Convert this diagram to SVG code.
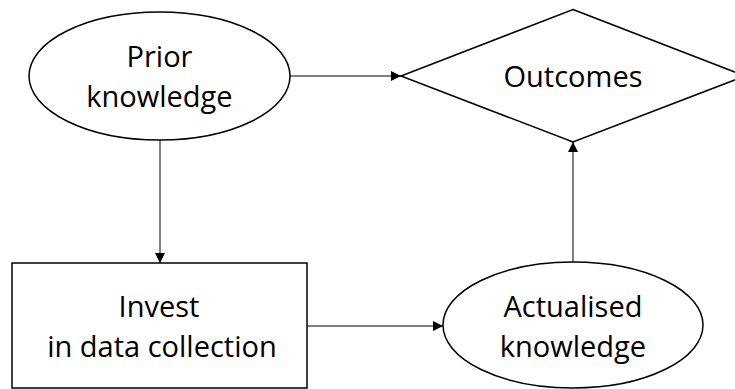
<svg xmlns="http://www.w3.org/2000/svg" width="735" height="389" viewBox="0 0 735 389">
  <style>
    .shape { fill: #ffffff; stroke: #000000; stroke-width: 1.5; }
    .label { font-family: "Open Sans", "Liberation Sans", sans-serif; font-size: 29px; fill: #000000; text-anchor: middle; }
    .edge { fill: none; stroke: #000000; stroke-width: 1; }
  </style>
  <defs>
    <marker id="arrow" markerUnits="userSpaceOnUse" markerWidth="10" markerHeight="10" refX="10" refY="5" orient="auto">
      <path d="M0,0 L10,5 L0,10 Z" fill="#000000"/>
    </marker>
  </defs>
  <rect width="735" height="389" fill="#ffffff"/>

  <g id="connectors">
    <line class="edge" x1="290" y1="76" x2="401" y2="76" marker-end="url(#arrow)"/>
    <line class="edge" x1="160" y1="140" x2="160" y2="263" marker-end="url(#arrow)"/>
    <line class="edge" x1="307" y1="326" x2="443" y2="326" marker-end="url(#arrow)"/>
    <line class="edge" x1="573" y1="262" x2="573" y2="142" marker-end="url(#arrow)"/>
  </g>

  <g id="prior-knowledge">
    <ellipse class="shape" cx="159.5" cy="76" rx="130.5" ry="64"/>
    <text class="label" x="159.5" y="67">Prior</text>
    <text class="label" x="159.5" y="107">knowledge</text>
  </g>

  <g id="outcomes">
    <polygon class="shape" points="573,9.5 745,76 573,142 401,76"/>
    <text class="label" x="573" y="87">Outcomes</text>
  </g>

  <g id="invest">
    <rect class="shape" x="12" y="263" width="295" height="125"/>
    <text class="label" x="159" y="317">Invest</text>
    <text class="label" x="162" y="357">in data collection</text>
  </g>

  <g id="actualised-knowledge">
    <ellipse class="shape" cx="573" cy="325" rx="130" ry="63"/>
    <text class="label" x="573" y="317">Actualised</text>
    <text class="label" x="573" y="357">knowledge</text>
  </g>
</svg>
